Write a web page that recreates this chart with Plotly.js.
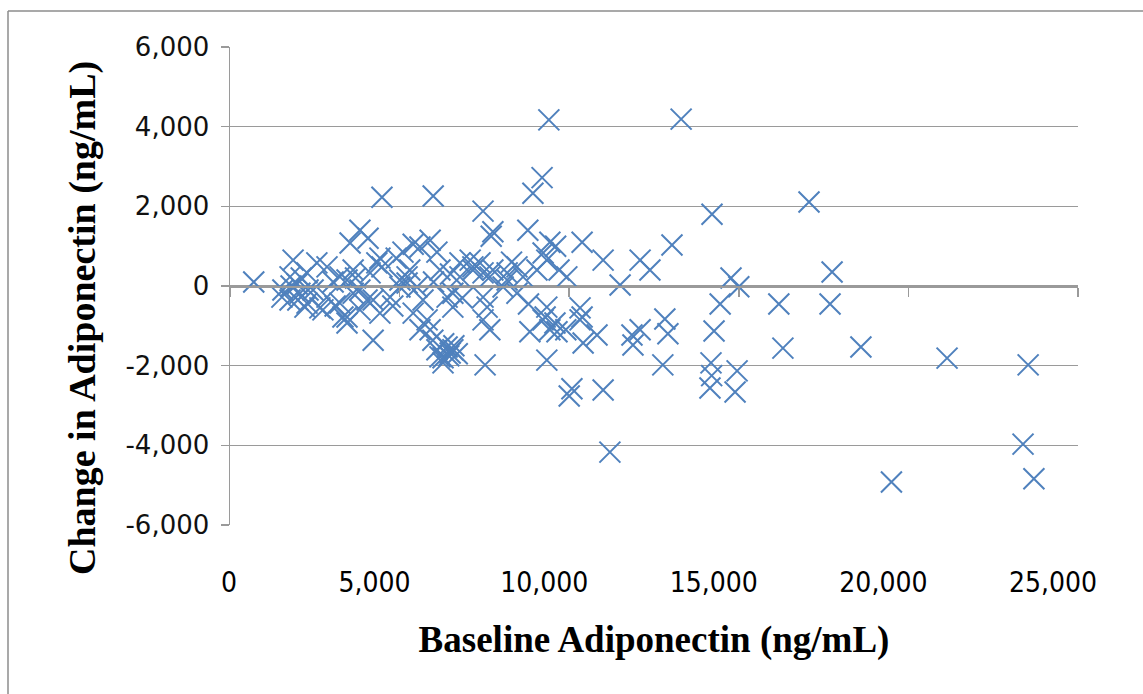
<!DOCTYPE html>
<html>
<head>
<meta charset="utf-8">
<script src="https://cdn.plot.ly/plotly-3.0.1.min.js"></script>
<style>html,body{margin:0;padding:0;background:#fff;}#chart{width:1143px;height:694px;}</style>
</head>
<body>
<div id="chart"></div>
<script>
// Baseline adiponectin (ng/mL)
const baseline = [
  700, 1560, 1770, 1860, 1770, 2060, 2270, 2270, 2450, 2560,
  2860, 2860, 2740, 2210, 1980, 2100, 3040, 3240, 3240, 3330,
  3450, 3450, 3540, 3630, 3630, 3830, 3830, 3830, 4070, 4130,
  4220, 4220, 4420, 4420, 4480, 4480, 4720, 5010, 5010, 5100,
  5220, 5220, 5400, 5510, 5600, 5690, 5810, 5900, 5900, 5980,
  5990, 6000, 6100, 6100, 6190, 6190, 6280, 6400, 6400, 6490,
  6570, 6570, 6780, 6780, 7080, 7160, 7370, 7460, 7460, 7460,
  7460, 7520, 7580, 7660, 7660, 7750, 7700, 7750, 8050, 8170,
  8170, 8460, 8460, 8640, 8780, 8840, 8930, 9050, 9200, 9230,
  9230, 9340, 9340, 9340, 9400, 9430, 9430, 9580, 9640, 9930,
  10000, 10080, 10320, 10320, 10380, 10410, 10820, 11000, 11000, 11200,
  11500, 11850, 11880, 12090, 12090, 12380, 12760, 12820, 12910, 13030,
  13300, 14150, 14180, 14200, 14210, 14270, 14450, 14770, 14890, 14950,
  15000, 16180, 16300, 17070, 17690, 17750, 18600, 19500, 21140, 23380,
  23530, 23700,
  1530, 2300, 2650, 3450, 4040, 4330, 5600, 6280, 6570, 4800,
  5300, 6850, 6300, 6450, 6600, 6700, 7160, 8800, 9900, 3100,
  2000, 1800, 3700, 4900, 5400, 6500, 8300, 9600, 9700, 9290,
  10380
];
// Change in adiponectin (ng/mL)
const change = [
  100, -100, 230, 650, -350, -180, 330, -430, -100, 580,
  480, -280, -600, -530, 50, 200, 100, 230, -430, -780,
  150, -930, 1080, 400, -180, 1400, -600, -100, 1200, 330,
  -350, -1360, 700, -680, 2230, 480, -280, -25, 150, 850,
  230, 75, -680, -25, 980, -350, -850, 1150, -1100, -1360,
  2260, 100, 850, -1600, 400, -1780, -1930, -280, -1530, -1680,
  -530, -1600, 580, 230, 650, 480, 580, 1880, 330, -280,
  -850, -1980, -530, -1100, 230, 1360, 1250, 400, -25, 150,
  330, 480, -180, 230, 1400, -1150, 2330, 400, 2720, 830,
  -850, 650, -1860, -530, 4170, 1100, -1100, -930, -1150, 230,
  -2760, -2580, -550, -850, 1100, -1430, -1230, 650, -2610, -4170,
  25, -1230, -1480, 650, -1100, 400, -1980, -830, -1200, 1030,
  4190, -2560, -1930, -2250, 1800, -1130, -450, 200, -2660, -2130,
  -20, -450, -1560, 2110, -450, 350, -1530, -4920, -1810, -3970,
  -1980, -4840,
  -280, -100, -550, -780, -350, 580, -1100, -1800, -180, -500,
  400, -300, -1450, -1750, -1500, -1700, 400, -450, -1100, -500,
  -350, 0, 200, 700, 1050, 300, 600, 1000, 400, -780,
  -780
];
const yTicks = [-6000, -4000, -2000, 0, 2000, 4000, 6000];
const xTicks = [0, 5000, 10000, 15000, 20000, 25000];
const xTitle = 'Baseline Adiponectin (ng/mL)';
const yTitle = 'Change in Adiponectin (ng/mL)';

const grey = '#9a9a9a';
const NB = '\u00a0';
const titleFont = {family: '"Liberation Serif", "Times New Roman", serif', size: 38, color: '#000', weight: 'bold'};
const traces = [
  {
    type: 'scatter', mode: 'markers', x: baseline, y: change,
    marker: {symbol: 'x-thin-open', size: 21, color: '#4F81BD', line: {color: '#4F81BD', width: 2}},
    hoverinfo: 'x+y', showlegend: false
  },
  {type: 'scatter', mode: 'markers', x: [], y: [], xaxis: 'x2', yaxis: 'y', showlegend: false, hoverinfo: 'skip'}
];

const layout = {
  width: 1143, height: 694,
  margin: {l: 230, r: 65, t: 47, b: 169},
  paper_bgcolor: '#ffffff', plot_bgcolor: '#ffffff',
  showlegend: false,
  xaxis: {
    range: [0, 25000], tickvals: xTicks,
    ticktext: xTicks.map(v => (v === 0 ? NB.repeat(6) : '') + v.toLocaleString('en-US')),
    showgrid: false, zeroline: false, showline: false, ticks: '',
    tickfont: {family: '"Liberation Sans Narrow", "DejaVu Sans Condensed", Arial', size: 28, color: '#000'},
    ticklabelshift: -25, ticklabelstandoff: 38,
    title: {text: xTitle, font: {family: titleFont.family, size: 37, color: '#000', weight: 'bold'}, standoff: 28},
    automargin: false
  },
  xaxis2: {
    overlaying: 'x', matches: 'x', anchor: 'free', position: 0.5, side: 'bottom',
    range: [0, 25000], tickvals: xTicks, showticklabels: false,
    showgrid: false, zeroline: false, showline: true, linecolor: grey, linewidth: 1.5,
    ticks: 'outside', ticklen: 9, tickwidth: 1.5, tickcolor: grey
  },
  yaxis: {
    range: [-6000, 6000], tickvals: yTicks, ticktext: yTicks.map(v => v.toLocaleString('en-US')),
    showgrid: true, gridcolor: grey, gridwidth: 1.5, zeroline: false,
    showline: true, linecolor: grey, linewidth: 1.5, mirror: false,
    ticks: 'outside', ticklen: 8, tickwidth: 1.5, tickcolor: grey,
    tickfont: {family: '"DejaVu Sans", Verdana, sans-serif', size: 26, color: '#111'},
    ticklabelstandoff: 6,
    automargin: false
  },
  annotations: [
    {text: yTitle, textangle: -90, xref: 'paper', yref: 'paper',
     x: (82 - 230) / 848, y: (525 - 318) / 478, xanchor: 'center', yanchor: 'middle',
     showarrow: false, font: titleFont}
  ],
  shapes: [
    {type: 'line', xref: 'paper', yref: 'paper', x0: (8 - 230) / 848, x1: (1143 - 230) / 848, y0: (525 - 11) / 478, y1: (525 - 11) / 478, line: {color: '#8c8c8c', width: 1.5}},
    {type: 'line', xref: 'paper', yref: 'paper', x0: (8 - 230) / 848, x1: (8 - 230) / 848, y0: (525 - 11) / 478, y1: (525 - 700) / 478, line: {color: '#8c8c8c', width: 1.5}}
  ]
};

Plotly.newPlot('chart', traces, layout, {displayModeBar: false, staticPlot: true});
</script>
</body>
</html>
